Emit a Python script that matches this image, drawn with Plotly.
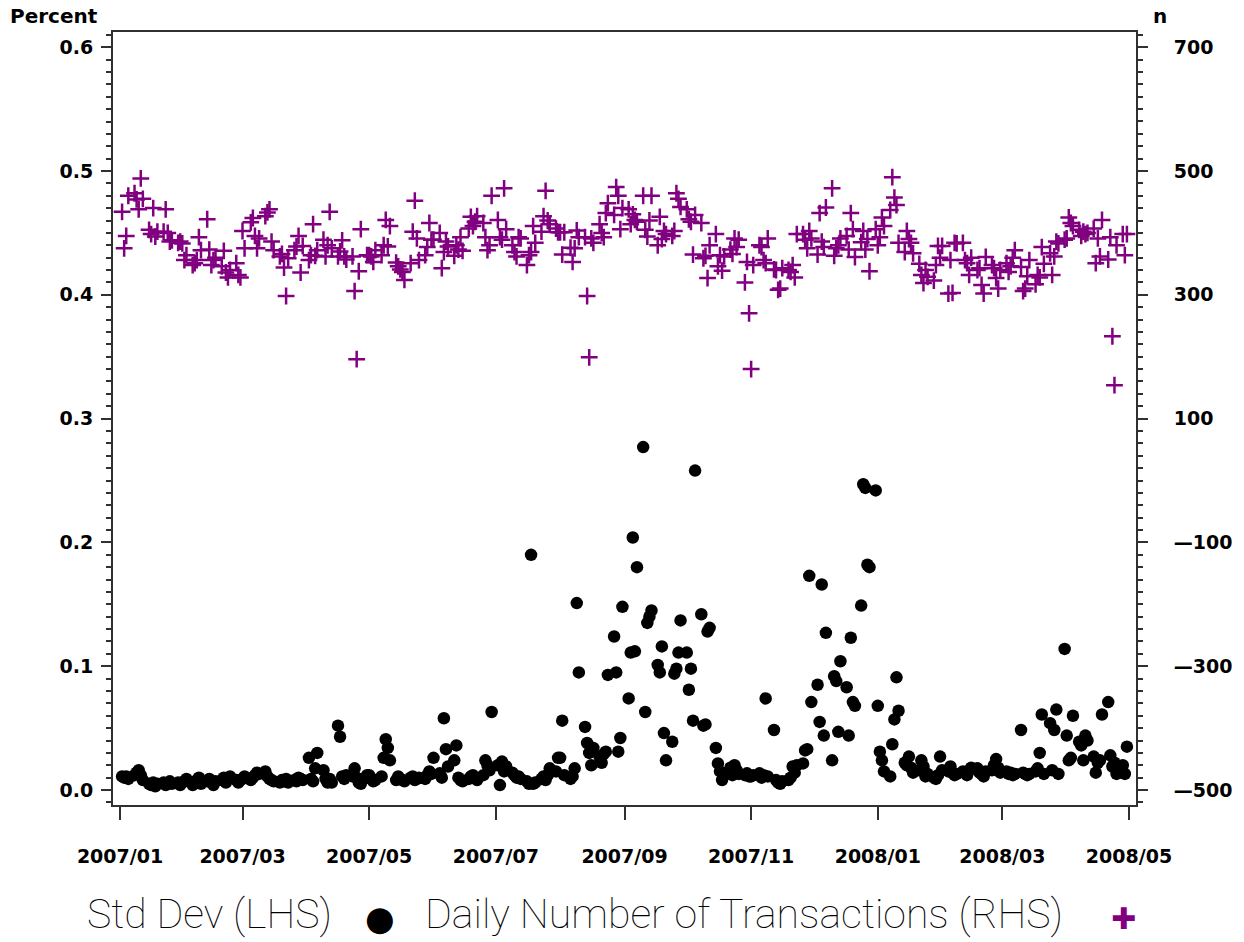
import pandas as pd
import plotly.graph_objects as go

# Daily observations, one value per business day, grouped by month.
std_dev = [
    # 2007-01
    0.011, 0.010, 0.011, 0.009, 0.012, 0.014, 0.016, 0.012, 0.008, 0.005, 0.004,
    0.006, 0.003, 0.005, 0.006, 0.004, 0.005, 0.007, 0.005, 0.006, 0.004, 0.006,
    # 2007-02
    0.007, 0.009, 0.004, 0.006, 0.008, 0.010, 0.005, 0.007, 0.009, 0.006,
    0.004, 0.007, 0.008, 0.010, 0.006, 0.009, 0.011, 0.008, 0.006, 0.008,
    # 2007-03
    0.009, 0.011, 0.008, 0.010, 0.012, 0.014, 0.013, 0.015, 0.011, 0.009, 0.008,
    0.007, 0.006, 0.008, 0.007, 0.009, 0.006, 0.008, 0.007, 0.010, 0.009, 0.008,
    # 2007-04
    0.026, 0.009, 0.007, 0.0175, 0.030, 0.016, 0.009, 0.006, 0.009, 0.006, 0.052,
    0.043, 0.011, 0.009, 0.012, 0.011, 0.0175, 0.010, 0.006, 0.005, 0.012,
    # 2007-05
    0.012, 0.009, 0.007, 0.008, 0.011, 0.026, 0.041, 0.034, 0.024, 0.008, 0.011, 0.009,
    0.008, 0.007, 0.010, 0.011, 0.008, 0.009, 0.010, 0.009, 0.012, 0.015, 0.013,
    # 2007-06
    0.026, 0.0135, 0.010, 0.058, 0.033, 0.019, 0.024, 0.036, 0.010, 0.008, 0.007,
    0.009, 0.011, 0.012, 0.010, 0.008, 0.012, 0.024, 0.020, 0.016, 0.063,
    # 2007-07
    0.020, 0.004, 0.023, 0.015, 0.019, 0.014, 0.012, 0.010, 0.011, 0.009, 0.007,
    0.005, 0.190, 0.005, 0.006, 0.009, 0.011, 0.008, 0.012, 0.0175, 0.015, 0.026,
    # 2007-08
    0.026, 0.056, 0.012, 0.009, 0.011, 0.0175, 0.151, 0.095, 0.051, 0.038, 0.030, 0.020,
    0.034, 0.027, 0.022, 0.029, 0.031, 0.093, 0.124, 0.095, 0.031, 0.042, 0.148,
    # 2007-09
    0.074, 0.111, 0.204, 0.112, 0.180, 0.277, 0.063, 0.135, 0.140, 0.145,
    0.101, 0.095, 0.116, 0.046, 0.024, 0.039, 0.094, 0.098, 0.111, 0.137,
    # 2007-10
    0.111, 0.081, 0.098, 0.056, 0.258, 0.142, 0.052, 0.053, 0.128, 0.131, 0.034, 0.0215,
    0.015, 0.008, 0.0135, 0.018, 0.012, 0.020, 0.016, 0.013, 0.012, 0.0135, 0.011,
    # 2007-11
    0.011, 0.012, 0.0135, 0.010, 0.012, 0.074, 0.011, 0.0485, 0.008, 0.006, 0.005,
    0.007, 0.008, 0.010, 0.019, 0.014, 0.020, 0.0215, 0.032, 0.033, 0.173, 0.071,
    # 2007-12
    0.085, 0.055, 0.166, 0.044, 0.127, 0.024, 0.092, 0.088, 0.047, 0.104, 0.083,
    0.044, 0.123, 0.071, 0.068, 0.149, 0.247, 0.244, 0.182, 0.180, 0.242,
    # 2008-01
    0.068, 0.031, 0.024, 0.015, 0.011, 0.037, 0.057, 0.091, 0.064, 0.022, 0.020, 0.027,
    0.018, 0.014, 0.016, 0.024, 0.019, 0.011, 0.013, 0.010, 0.009, 0.012, 0.027,
    # 2008-02
    0.016, 0.015, 0.019, 0.014, 0.012, 0.013, 0.015, 0.014, 0.012, 0.016, 0.018,
    0.0175, 0.014, 0.013, 0.011, 0.015, 0.016, 0.020, 0.025, 0.018, 0.014,
    # 2008-03
    0.015, 0.013, 0.014, 0.012, 0.013, 0.0485, 0.014, 0.013, 0.012, 0.013, 0.015,
    0.0175, 0.030, 0.061, 0.013, 0.054, 0.016, 0.0485, 0.065, 0.013, 0.114,
    # 2008-04
    0.044, 0.024, 0.026, 0.060, 0.039, 0.036, 0.024, 0.044, 0.040, 0.027, 0.014,
    0.022, 0.024, 0.061, 0.071, 0.028, 0.019, 0.022, 0.013, 0.020, 0.013, 0.035,
]

n_trans = [
    # 2007-01
    434, 375, 395, 460, 464, 454, 438, 488, 455, 405, 398,
    440, 394, 402, 402, 438, 400, 386, 388, 384, 386, 383,
    # 2007-02
    356, 364, 348, 351, 356, 393, 372, 422, 373, 348,
    356, 360, 346, 371, 336, 328, 340, 351, 332, 328,
    # 2007-03
    403, 375, 417, 424, 395, 375, 391, 427, 433, 438, 386,
    372, 362, 366, 344, 298, 359, 372, 378, 395, 336, 379,
    # 2007-04
    356, 364, 414, 363, 372, 389, 362, 380, 434, 375, 362,
    370, 388, 362, 357, 362, 306, 196, 338, 406, 364,
    # 2007-05
    364, 362, 353, 372, 364, 380, 421, 378, 411, 352, 346, 341,
    337, 324, 351, 402, 452, 391, 356, 364, 377, 416, 389,
    # 2007-06
    389, 400, 343, 369, 386, 378, 363, 380, 373, 393, 371,
    407, 426, 411, 418, 427, 416, 393, 372, 380, 460,
    # 2007-07
    421, 393, 389, 472, 406, 380, 369, 362, 393, 391, 348,
    364, 369, 411, 384, 402, 427, 468, 420, 414, 407, 401,
    # 2007-08
    401, 365, 401, 376, 353, 375, 404, 393, 393, 298, 199, 391,
    384, 414, 400, 393, 432, 448, 429, 474, 460, 406, 440,
    # 2007-09
    438, 414, 430, 421, 418, 460, 405, 394, 420, 460,
    380, 426, 390, 403, 398, 395, 403, 464, 455, 442,
    # 2007-10
    438, 422, 418, 365, 429, 416, 359, 363, 327, 380, 398, 346,
    364, 339, 362, 373, 366, 391, 377, 389, 320, 353, 270,
    # 2007-11
    180, 348, 380, 377, 356, 351, 391, 341, 340, 308, 310,
    343, 340, 337, 348, 328, 398, 398, 389, 375, 403, 391,
    # 2007-12
    365, 432, 386, 377, 441, 472, 363, 375, 380, 391, 395,
    373, 432, 406, 361, 385, 403, 373, 390, 338, 406,
    # 2008-01
    380, 393, 425, 411, 437, 490, 457, 445, 384, 369, 403, 390,
    384, 367, 350, 332, 319, 340, 329, 323, 348, 379, 360,
    # 2008-02
    379, 302, 356, 303, 384, 383, 384, 356, 351, 332, 360,
    340, 343, 316, 302, 361, 348, 343, 327, 310, 340,
    # 2008-03
    351, 337, 346, 360, 372, 345, 306, 310, 330, 356, 317,
    332, 328, 377, 350, 367, 332, 362, 386, 383, 389,
    # 2008-04
    391, 425, 416, 411, 405, 395, 402, 398, 400, 407, 351,
    391, 362, 421, 357, 393, 233, 154, 380, 398, 364, 398,
]

dates = pd.bdate_range("2007-01-02", "2008-04-30")
if not (len(dates) == len(std_dev) == len(n_trans)):
    raise ValueError(f"length mismatch: {len(dates)} {len(std_dev)} {len(n_trans)}")

left_ticks = [0.0, 0.1, 0.2, 0.3, 0.4, 0.5, 0.6]
right_ticks = [-500, -300, -100, 100, 300, 500, 700]
right_labels = ["\u2014500", "\u2014300", "\u2014100", "100", "300", "500", "700"]

PURPLE = "#800080"
AXIS = "#303030"
TICK_FONT = dict(family="DejaVu Sans", size=19, color="black", weight="bold")

W, H = 1244, 942
L, R, T, B = 113, 1136, 32, 805


def px(x):
    return (x - L) / (R - L)


def py(y):
    return (B - y) / (B - T)


fig = go.Figure()
fig.add_trace(go.Scatter(
    x=dates, y=std_dev, mode="markers", name="Std Dev (LHS)",
    marker=dict(symbol="circle", size=12.5, color="black", line=dict(width=0)),
    yaxis="y",
))
fig.add_trace(go.Scatter(
    x=dates, y=n_trans, mode="markers", name="Daily Number of Transactions (RHS)",
    marker=dict(symbol="cross-thin", size=12, color=PURPLE,
                line=dict(width=2.5, color=PURPLE)),
    yaxis="y2",
))

fig.update_layout(
    width=W, height=H,
    margin=dict(l=L, r=W - R, t=T, b=H - B),
    paper_bgcolor="white", plot_bgcolor="white",
    showlegend=False,
    xaxis=dict(
        type="date",
        range=["2006-12-28 15:00", "2008-05-04 09:00"],
        tick0="2007-01-01", dtick="M2", tickformat="%Y/%m",
        ticks="outside", ticklen=13, tickwidth=1.5, tickcolor=AXIS,
        ticklabelstandoff=20,
        showline=True, linecolor=AXIS, linewidth=2, mirror=True,
        showgrid=False, zeroline=False, tickfont=TICK_FONT,
    ),
    yaxis=dict(
        range=[-0.0121, 0.6123],
        tickvals=left_ticks, tickformat=".1f",
        ticks="outside", ticklen=10, tickwidth=1.5, tickcolor=AXIS,
        minor=dict(dtick=0.01, tick0=0, ticks="outside", ticklen=5,
                   tickwidth=1.5, tickcolor=AXIS),
        ticklabelstandoff=4,
        showline=True, linecolor=AXIS, linewidth=2,
        showgrid=False, zeroline=False, tickfont=TICK_FONT,
    ),
    yaxis2=dict(
        overlaying="y", side="right",
        range=[-524.2, 724.5],
        tickvals=right_ticks, ticktext=right_labels,
        ticks="outside", ticklen=10, tickwidth=1.5, tickcolor=AXIS,
        minor=dict(dtick=20, tick0=-500, ticks="outside", ticklen=5,
                   tickwidth=1.5, tickcolor=AXIS),
        ticklabelstandoff=22,
        showline=True, linecolor=AXIS, linewidth=2,
        showgrid=False, zeroline=False, tickfont=TICK_FONT,
    ),
)

# axis headers
fig.add_annotation(x=px(8), y=py(16), xref="paper", yref="paper",
                   text="<b>Percent</b>", showarrow=False, xanchor="left",
                   yanchor="middle",
                   font=dict(family="DejaVu Sans", size=20, color="black"))
fig.add_annotation(x=px(1160), y=py(16), xref="paper", yref="paper",
                   text="<b>n</b>", showarrow=False, xanchor="center",
                   yanchor="middle",
                   font=dict(family="DejaVu Sans", size=20, color="black"))

# key below the plot: label followed by its symbol
LEG_FONT = dict(family="Roboto", size=41, color="black", weight=100)
LEG_Y = py(914)
fig.add_annotation(x=px(85), y=LEG_Y, xref="paper", yref="paper",
                   text="Std Dev (LHS)", showarrow=False, xanchor="left",
                   yanchor="middle", font=LEG_FONT)
fig.add_annotation(x=px(380), y=py(918), xref="paper", yref="paper",
                   text="\u25CF", showarrow=False, xanchor="center",
                   yanchor="middle",
                   font=dict(family="DejaVu Sans", size=34, color="black"))
fig.add_annotation(x=px(423), y=LEG_Y, xref="paper", yref="paper",
                   text="Daily Number of Transactions (RHS)", showarrow=False,
                   xanchor="left", yanchor="middle", font=LEG_FONT)
fig.add_annotation(x=px(1123), y=py(918), xref="paper", yref="paper",
                   text="\u271A", showarrow=False, xanchor="center",
                   yanchor="middle",
                   font=dict(family="DejaVu Sans", size=30, color=PURPLE))

fig.write_html("out.html")
